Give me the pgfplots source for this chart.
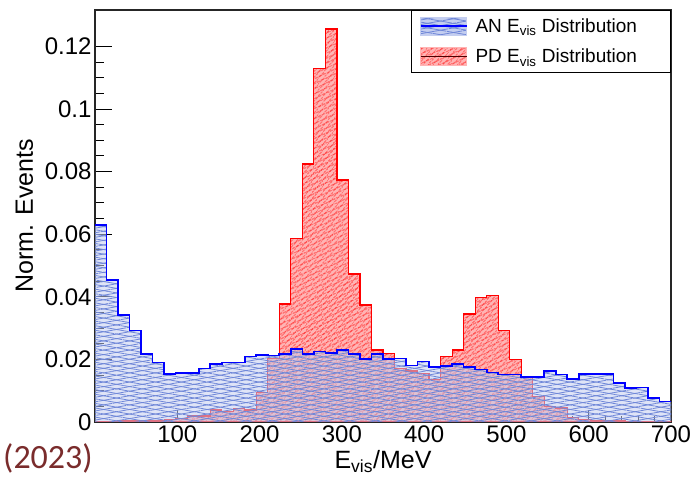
\documentclass[border=0pt]{standalone}
\usepackage{fontspec}
\setmainfont{Liberation Sans}
\newfontfamily\slidefont{Carlito}
\usepackage{pgfplots}
\usepackage{pgfplotstable}
\pgfplotsset{compat=1.18}
\usetikzlibrary{patterns.meta}
\definecolor{anfill}{HTML}{C4CEF0}
\definecolor{anpat}{HTML}{6F87D8}
\definecolor{pdfill}{HTML}{FFB4B4}
\definecolor{yearred}{HTML}{7A2C2C}

% AN E_vis, bin left edges (14 MeV bins), last row closes the histogram
\pgfplotstableread{
x y
0 0.0629
14 0.0454
28 0.0342
42 0.0292
56 0.0218
70 0.0190
84 0.0153
98 0.0157
112 0.0157
126 0.0171
140 0.0186
154 0.0190
168 0.0190
182 0.0209
196 0.0213
210 0.0212
224 0.0218
238 0.0233
252 0.0218
266 0.0225
280 0.0220
294 0.0230
308 0.0217
322 0.0201
336 0.0217
350 0.0201
364 0.0203
378 0.0180
392 0.0193
406 0.0175
420 0.0179
434 0.0185
448 0.0175
462 0.0168
476 0.0158
490 0.0152
504 0.0152
518 0.0143
532 0.0143
546 0.0164
560 0.0152
574 0.0138
588 0.0153
602 0.0153
616 0.0153
630 0.0124
644 0.0108
658 0.0110
672 0.0076
686 0.0065
700 0.0065
}\antable

% PD E_vis
\pgfplotstableread{
x y
0 0.0001
14 0.0001
28 0.0004
42 0.0004
56 0.0004
70 0.0003
84 0.0008
98 0.0011
112 0.0019
126 0.0019
140 0.0038
154 0.0033
168 0.0043
182 0.0038
196 0.0095
210 0.0203
224 0.0377
238 0.0585
252 0.0824
266 0.1130
280 0.1255
294 0.0773
308 0.0473
322 0.0374
336 0.0230
350 0.0219
364 0.0170
378 0.0163
392 0.0156
406 0.0137
420 0.0210
434 0.0230
448 0.0345
462 0.0398
476 0.0405
490 0.0292
504 0.0199
518 0.0143
532 0.0081
546 0.0049
560 0.0045
574 0.0015
588 0.0008
602 0.0004
616 0.0004
630 0.0003
644 0.0001
658 0
672 0
686 0
700 0
}\pdtable

\tikzset{
  anhatch/.style={postaction={pattern={Lines[angle=10,distance=4.5pt,line width=0.8pt]},pattern color=anpat,fill opacity=#1},
                  postaction={pattern={Lines[angle=-10,distance=4.5pt,line width=0.8pt]},pattern color=anpat,fill opacity=#1}},
  pdhatch/.style={postaction={pattern={Lines[angle=25,distance=4pt,line width=0.8pt]},pattern color=red},
                  postaction={pattern={Lines[angle=50,distance=4pt,line width=0.8pt]},pattern color=red}},
}

\begin{document}
\begin{tikzpicture}
\useasboundingbox (0pt,0pt) rectangle (693pt,478pt);
\begin{axis}[at={(95pt,56pt)},anchor=south west,scale only axis,width=576pt,height=412pt,
  xmin=0,xmax=700,ymin=0,ymax=0.1316,
  axis line style={line width=1.1pt,black!85},
  tick pos=left,tick align=inside,
  major tick length=17pt,minor tick length=9pt,
  xtick style={/pgfplots/major tick length=12pt,/pgfplots/minor tick length=6pt},
  every tick/.style={black,line width=0.8pt},
  xtick={100,200,...,700},minor x tick num=4,
  ytick={0,0.02,...,0.121},minor y tick num=3,
  scaled y ticks=false,
  yticklabel style={/pgf/number format/fixed,/pgf/number format/precision=2},
  /pgf/number format/assume math mode=true,
  tick label style={font=\fontsize{24}{24}\selectfont},
  xlabel={E\textsubscript{vis}/MeV},ylabel={Norm. Events},
  every axis x label/.style={at={(axis description cs:0.5,-0.113)},anchor=base,font=\fontsize{25}{25}\selectfont},
  every axis y label/.style={at={(axis description cs:-0.108,0.5)},rotate=90,anchor=base,font=\fontsize{25}{25}\selectfont},
  legend style={at={(1,1)},anchor=north east,draw=black,line width=0.9pt,
    font=\fontsize{19}{19}\selectfont,inner xsep=8pt,inner ysep=6pt,row sep=11pt,
    /tikz/every odd column/.append style={column sep=6pt}},
  legend cell align=left,
  clip=true]
\addlegendimage{legend image code/.code={
  \fill[anfill,anhatch=1] (0pt,-9pt) rectangle (46pt,9pt);
  \draw[blue,line width=1.6pt] (0pt,0pt) -- (46pt,0pt);}}
\addlegendentry{\makebox[185pt][l]{AN E\textsubscript{vis} Distribution}}
\addlegendimage{legend image code/.code={
  \fill[pdfill,pdhatch] (0pt,-9pt) rectangle (46pt,9pt);
  \draw[black!70!red,line width=1pt] (0pt,0pt) -- (46pt,0pt);}}
\addlegendentry{\makebox[185pt][l]{PD E\textsubscript{vis} Distribution}}
% PD filled histogram with its outline
\addplot[const plot mark left,draw=red,line width=1.2pt,fill=pdfill,pdhatch,forget plot] table[x=x,y=y] {\pdtable} \closedcycle;
% AN fill over it, partly see-through
\addplot[const plot mark left,draw=none,fill=anfill,fill opacity=0.55,anhatch=0.6,forget plot] table[x=x,y=y] {\antable} \closedcycle;
% AN outline on top
\addplot[const plot mark left,draw=blue,line width=1.7pt,forget plot] table[x=x,y=y] {\antable};
\end{axis}
\node[anchor=base west,inner sep=0pt,text=yearred,font=\slidefont\fontsize{34}{34}\selectfont] at (3pt,9pt) {(2023)};
\end{tikzpicture}
\end{document}
